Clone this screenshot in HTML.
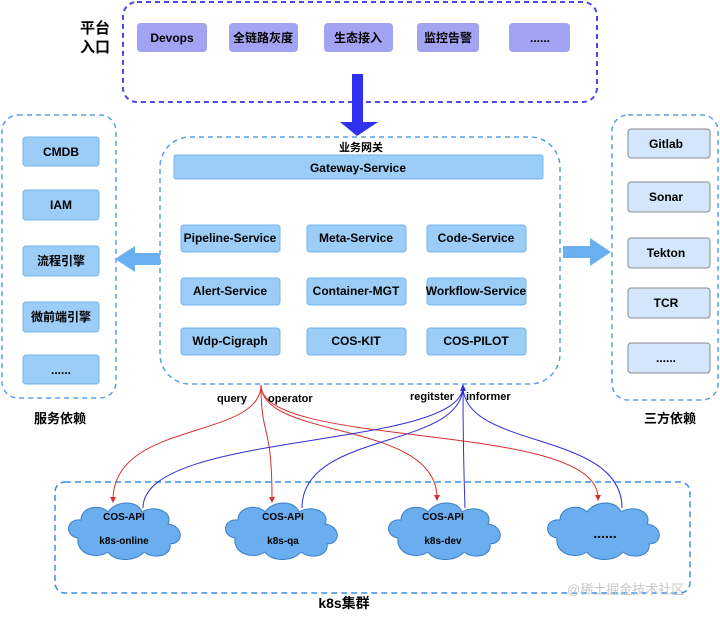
<!DOCTYPE html>
<html><head><meta charset="utf-8"><style>
body{margin:0;background:#fff;}
svg text{font-family:"Liberation Sans","Noto Sans CJK SC",sans-serif;font-weight:bold;}
</style></head><body>
<svg width="720" height="615" viewBox="0 0 720 615" xmlns="http://www.w3.org/2000/svg">
<!-- top -->
<rect x="123" y="2" width="474" height="100" rx="14" fill="none" stroke="#4a4ae0" stroke-width="2" stroke-dasharray="5,4"/>
<text x="95" y="33" font-size="15" text-anchor="middle">平台</text>
<text x="95" y="52" font-size="15" text-anchor="middle">入口</text>
<g font-size="12" text-anchor="middle">
<rect x="137" y="23" width="70" height="29" rx="4" fill="#a3a3f3"/><text x="172" y="42">Devops</text>
<rect x="229" y="23" width="69" height="29" rx="4" fill="#a3a3f3"/><text x="263" y="42">全链路灰度</text>
<rect x="324" y="23" width="69" height="29" rx="4" fill="#a3a3f3"/><text x="358" y="42">生态接入</text>
<rect x="417" y="23" width="62" height="29" rx="4" fill="#a3a3f3"/><text x="448" y="42">监控告警</text>
<rect x="509" y="23" width="61" height="29" rx="4" fill="#a3a3f3"/><text x="540" y="42">......</text>
</g>
<path d="M352,74 H363 V122 H378 L357,136 L340,122 H352Z" fill="#3030f0"/>
<!-- center -->
<rect x="160" y="137" width="400" height="247" rx="30" fill="none" stroke="#5aa0e8" stroke-width="1.5" stroke-dasharray="5,4"/>
<text x="361" y="151" font-size="11" text-anchor="middle">业务网关</text>
<rect x="174" y="155" width="369" height="24" rx="2" fill="#9ccdf6" stroke="#70b5ee"/>
<text x="358" y="172" font-size="12" text-anchor="middle">Gateway-Service</text>
<g font-size="12" text-anchor="middle" fill="#000">
<g fill="#9ccdf6" stroke="#70b5ee">
<rect x="181" y="225" width="99" height="27" rx="3"/><rect x="307" y="225" width="99" height="27" rx="3"/><rect x="427" y="225" width="99" height="27" rx="3"/>
<rect x="181" y="278" width="99" height="27" rx="3"/><rect x="307" y="278" width="99" height="27" rx="3"/><rect x="427" y="278" width="99" height="27" rx="3"/>
<rect x="181" y="328" width="99" height="27" rx="3"/><rect x="307" y="328" width="99" height="27" rx="3"/><rect x="427" y="328" width="99" height="27" rx="3"/>
</g>
<text x="230" y="242">Pipeline-Service</text><text x="356" y="242">Meta-Service</text><text x="476" y="242">Code-Service</text>
<text x="230" y="295">Alert-Service</text><text x="356" y="295">Container-MGT</text><text x="476" y="295">Workflow-Service</text>
<text x="230" y="345">Wdp-Cigraph</text><text x="356" y="345">COS-KIT</text><text x="476" y="345">COS-PILOT</text>
</g>
<!-- left -->
<rect x="2" y="115" width="114" height="283" rx="16" fill="none" stroke="#5aa0e8" stroke-width="1.5" stroke-dasharray="5,4"/>
<g font-size="12" text-anchor="middle">
<g fill="#9ccdf6" stroke="#70b5ee">
<rect x="23" y="137" width="76" height="29" rx="3"/><rect x="23" y="190" width="76" height="30" rx="3"/><rect x="23" y="246" width="76" height="30" rx="3"/><rect x="23" y="302" width="76" height="30" rx="3"/><rect x="23" y="355" width="76" height="29" rx="3"/>
</g>
<text x="61" y="156">CMDB</text><text x="61" y="209">IAM</text><text x="61" y="265">流程引擎</text><text x="61" y="321">微前端引擎</text><text x="61" y="374">......</text>
</g>
<text x="60" y="423" font-size="13" text-anchor="middle">服务依赖</text>
<path d="M160,253 H135 V246 L115,259 L135,272 V265 H160Z" fill="#6ab0f0"/>
<path d="M563,246 H590 V238 L611,252 L590,266 V258 H563Z" fill="#6ab0f0"/>
<!-- right -->
<rect x="612" y="115" width="106" height="285" rx="16" fill="none" stroke="#5aa0e8" stroke-width="1.5" stroke-dasharray="5,4"/>
<g font-size="12" text-anchor="middle">
<g fill="#d3e6fb" stroke="#888">
<rect x="628" y="129" width="82" height="29" rx="3"/><rect x="628" y="182" width="82" height="30" rx="3"/><rect x="628" y="238" width="82" height="30" rx="3"/><rect x="628" y="288" width="82" height="30" rx="3"/><rect x="628" y="343" width="82" height="30" rx="3"/>
</g>
<text x="666" y="148">Gitlab</text><text x="666" y="201">Sonar</text><text x="666" y="257">Tekton</text><text x="666" y="307">TCR</text><text x="666" y="362">......</text>
</g>
<text x="670" y="423" font-size="13" text-anchor="middle">三方依赖</text>
<!-- k8s -->
<rect x="55" y="482" width="635" height="111" rx="10" fill="none" stroke="#3a8ee6" stroke-width="1.5" stroke-dasharray="6,4"/>
<text x="344" y="608" font-size="14" text-anchor="middle">k8s集群</text>
<g fill="#6aaef0" stroke="#3c7fc4">
<path transform="translate(126,528)" d="M-48,10 C-62,8 -60,-10 -45,-8 C-45,-22 -25,-24 -18,-16 C-10,-28 12,-28 16,-16 C28,-24 48,-16 42,-4 C58,-2 58,16 44,16 C46,28 28,32 18,24 C10,34 -12,34 -18,24 C-30,32 -50,26 -48,10Z"/>
<path transform="translate(283,528)" d="M-48,10 C-62,8 -60,-10 -45,-8 C-45,-22 -25,-24 -18,-16 C-10,-28 12,-28 16,-16 C28,-24 48,-16 42,-4 C58,-2 58,16 44,16 C46,28 28,32 18,24 C10,34 -12,34 -18,24 C-30,32 -50,26 -48,10Z"/>
<path transform="translate(446,528)" d="M-48,10 C-62,8 -60,-10 -45,-8 C-45,-22 -25,-24 -18,-16 C-10,-28 12,-28 16,-16 C28,-24 48,-16 42,-4 C58,-2 58,16 44,16 C46,28 28,32 18,24 C10,34 -12,34 -18,24 C-30,32 -50,26 -48,10Z"/>
<path transform="translate(605,528)" d="M-48,10 C-62,8 -60,-10 -45,-8 C-45,-22 -25,-24 -18,-16 C-10,-28 12,-28 16,-16 C28,-24 48,-16 42,-4 C58,-2 58,16 44,16 C46,28 28,32 18,24 C10,34 -12,34 -18,24 C-30,32 -50,26 -48,10Z"/>
</g>
<g font-size="10" text-anchor="middle">
<text x="124" y="520">COS-API</text><text x="124" y="544">k8s-online</text>
<text x="283" y="520">COS-API</text><text x="283" y="544">k8s-qa</text>
<text x="443" y="520">COS-API</text><text x="443" y="544">k8s-dev</text>
<text x="605" y="538" font-size="14">......</text>
</g>
<g fill="none" stroke="#d83030" stroke-width="1">
<path d="M261,385 C261,440 113,420 113,500"/>
<path d="M261,385 C261,440 272,420 272,500"/>
<path d="M261,385 C261,440 437,420 437,498"/>
<path d="M261,385 C261,450 598,420 598,498"/>
</g>
<g fill="#d83030">
<path d="M110,497 L116,497 L113,503Z"/><path d="M269,497 L275,497 L272,503Z"/><path d="M434,495 L440,495 L437,501Z"/><path d="M595,495 L601,495 L598,501Z"/>
</g>
<g fill="none" stroke="#3030d0" stroke-width="1">
<path d="M143,508 C143,430 463,450 463,386"/>
<path d="M302,508 C302,430 463,450 463,386"/>
<path d="M465,508 C463,450 463,420 463,386"/>
<path d="M622,508 C622,430 463,450 463,386"/>
</g>
<path d="M460,391 L466,391 L463,384Z" fill="#3030d0"/>
<g font-size="11">
<text x="217" y="402">query</text><text x="268" y="402">operator</text>
<text x="410" y="400">regitster</text><text x="466" y="400">informer</text>
</g>
<text x="567" y="594" font-size="13" fill="#c8c8c8" style="font-weight:normal">@稀土掘金技术社区</text>
</svg>
</body></html>
